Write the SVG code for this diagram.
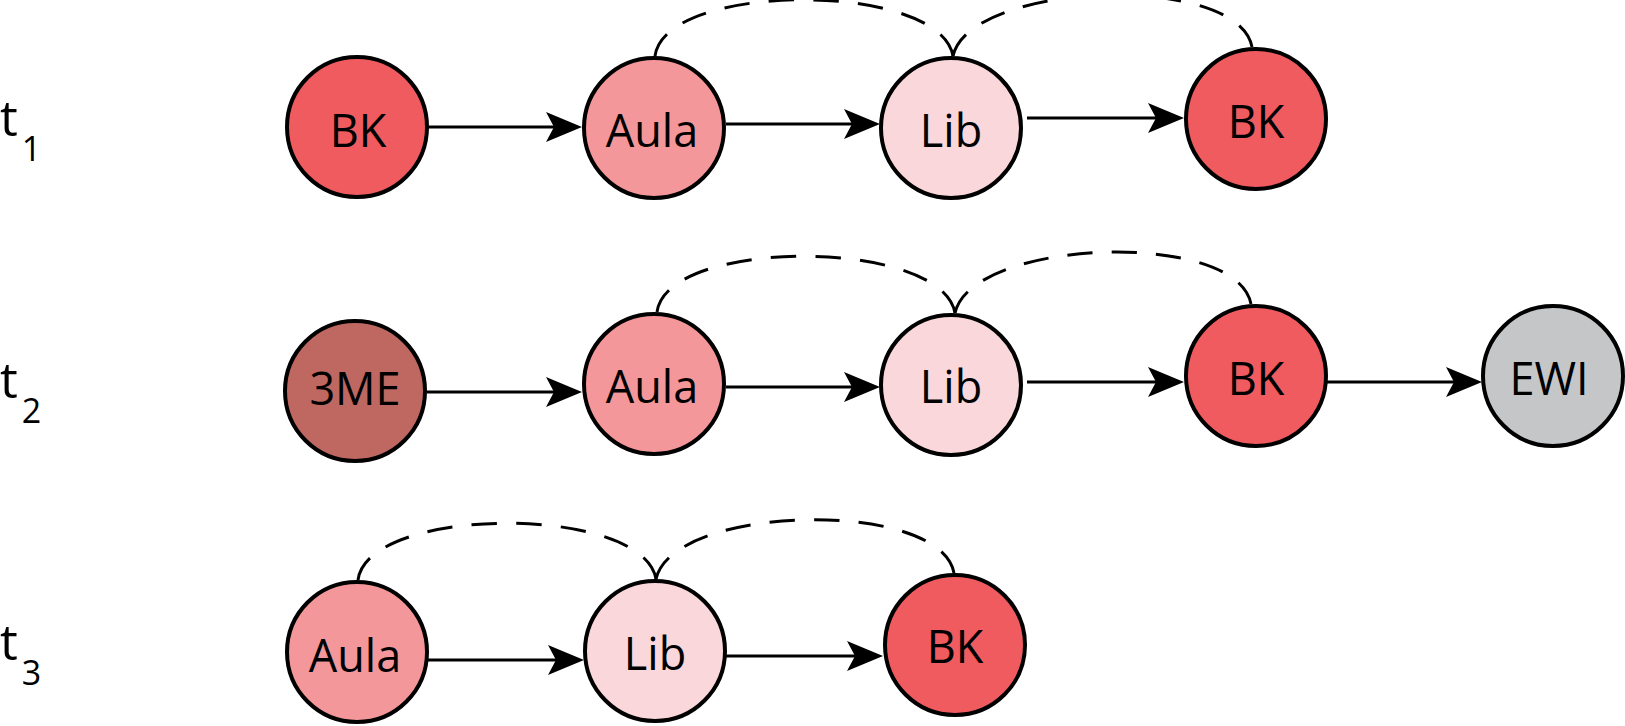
<svg xmlns="http://www.w3.org/2000/svg" width="1625" height="726" viewBox="0 0 1625 726">
<style>
.node circle{stroke:#000;stroke-width:4}
.node text{font-family:"Open Sans","Noto Sans","Liberation Sans",sans-serif;font-size:45px;text-anchor:middle;fill:#000}
.bk{fill:#EF5B5F}.aula{fill:#F4979A}.lib{fill:#FAD7DA}.me{fill:#BE6861}.ewi{fill:#C5C6C8}
.edge{stroke:#000;stroke-width:3;fill:none;marker-end:url(#ah)}
.arc{stroke:#000;stroke-width:3;fill:none;stroke-dasharray:5 3.8}
.lbl{font-family:"Open Sans","Noto Sans","Liberation Sans",sans-serif;font-size:50px;fill:#000}
</style>
<defs>
<marker id="ah" viewBox="0 0 36 30" refX="28" refY="15" markerWidth="36" markerHeight="30" markerUnits="userSpaceOnUse" orient="auto">
<path d="M0,0 L36,15 L0,30 L8,15 Z" fill="#000"/>
</marker>
</defs>
<g id="labels">
<text class="lbl" x="0" y="136">t<tspan dx="4" dy="25" font-size="34">1</tspan></text>
<text class="lbl" x="0" y="398">t<tspan dx="4" dy="25" font-size="34">2</tspan></text>
<text class="lbl" x="0" y="660">t<tspan dx="4" dy="25" font-size="34">3</tspan></text>
</g>
<g id="connectors">
<line class="edge" x1="428" y1="127" x2="574" y2="127"/>
<line class="edge" x1="726" y1="124" x2="872" y2="124"/>
<line class="edge" x1="1027" y1="118" x2="1176" y2="118"/>
<path class="arc" pathLength="66.6" d="M655,56 C665,-19 940,-19 953,56"/>
<path class="arc" pathLength="66.6" d="M1252,47 C1238,-28 970,-19 953,56"/>
<line class="edge" x1="427" y1="392" x2="574" y2="392"/>
<line class="edge" x1="726" y1="387" x2="872" y2="387"/>
<line class="edge" x1="1027" y1="382" x2="1176" y2="382"/>
<line class="edge" x1="1327" y1="382" x2="1474" y2="382"/>
<path class="arc" pathLength="66.6" d="M657,312 C667,237 942,238 955,313"/>
<path class="arc" pathLength="66.6" d="M1251,304 C1237,229 972,238 955,313"/>
<line class="edge" x1="428" y1="660" x2="576" y2="660"/>
<line class="edge" x1="726" y1="656" x2="875" y2="656"/>
<path class="arc" pathLength="66.6" d="M358,580 C368,505 643,504 656,579"/>
<path class="arc" pathLength="66.6" d="M954,573 C940,498 673,504 656,579"/>
</g>
<g id="r1-bk1" class="node"><circle class="bk" cx="357" cy="127" r="70"/><text x="358" y="147">BK</text></g>
<g id="r1-aula" class="node"><circle class="aula" cx="654" cy="128" r="70"/><text x="652" y="147">Aula</text></g>
<g id="r1-lib" class="node"><circle class="lib" cx="951" cy="128" r="70"/><text x="951" y="147">Lib</text></g>
<g id="r1-bk2" class="node"><circle class="bk" cx="1256" cy="119" r="70"/><text x="1256" y="138">BK</text></g>
<g id="r2-3me" class="node"><circle class="me" cx="355" cy="391" r="70"/><text x="355" y="405">3ME</text></g>
<g id="r2-aula" class="node"><circle class="aula" cx="654" cy="384" r="70"/><text x="652" y="403">Aula</text></g>
<g id="r2-lib" class="node"><circle class="lib" cx="951" cy="385" r="70"/><text x="951" y="403">Lib</text></g>
<g id="r2-bk" class="node"><circle class="bk" cx="1256" cy="376" r="70"/><text x="1256" y="395">BK</text></g>
<g id="r2-ewi" class="node"><circle class="ewi" cx="1553" cy="376" r="70"/><text x="1549" y="395">EWI</text></g>
<g id="r3-aula" class="node"><circle class="aula" cx="357" cy="652" r="70"/><text x="355" y="672">Aula</text></g>
<g id="r3-lib" class="node"><circle class="lib" cx="655" cy="651" r="70"/><text x="655" y="670">Lib</text></g>
<g id="r3-bk" class="node"><circle class="bk" cx="955" cy="645" r="70"/><text x="955" y="663">BK</text></g>
</svg>
